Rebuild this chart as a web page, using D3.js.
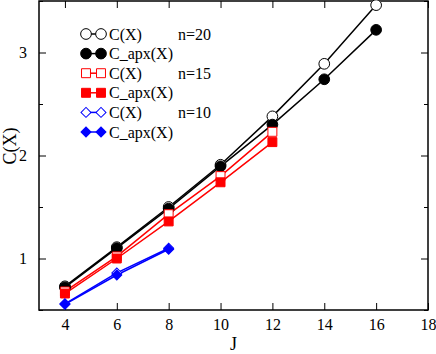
<!DOCTYPE html>
<html lang="en">
<head>
    <meta charset="UTF-8">
    <title>C(X) vs J</title>
    <script src="https://d3js.org/d3.v7.min.js"></script>
    <style>
        body { margin: 0; background: #fff; }
        .frame { fill: none; stroke: #000; stroke-width: 1.5px; }
        .tick line { stroke: #000; stroke-width: 1px; }
    </style>
</head>
<body>
    <script>
        // data
        var J20 = [4, 6, 8, 10, 12, 14, 16];
        var C20 = [0.73, 1.11, 1.50, 1.91, 2.38, 2.89, 3.46];
        var A20 = [0.72, 1.10, 1.485, 1.895, 2.30, 2.74, 3.22];

        var J15 = [4, 6, 8, 10, 12];
        var C15 = [0.68, 1.02, 1.43, 1.80, 2.23];
        var A15 = [0.66, 1.00, 1.36, 1.74, 2.13];

        var J10 = [4, 6, 8];
        var C10 = [0.56, 0.86, 1.10];
        var A10 = [0.555, 0.84, 1.09];

        var xTicks = [4, 6, 8, 10, 12, 14, 16, 18];
        var yTicks = [1, 2, 3];
        var yMinor = [0.5, 1.5, 2.5, 3.5];

        var series = [
            {J: J20, v: C20, color: "#000", shape: "circle", open: true, label: "C(X)", n: "n=20"},
            {J: J20, v: A20, color: "#000", shape: "circle", open: false, label: "C_apx(X)"},
            {J: J15, v: C15, color: "#ff0000", shape: "square", open: true, label: "C(X)", n: "n=15"},
            {J: J15, v: A15, color: "#ff0000", shape: "square", open: false, label: "C_apx(X)"},
            {J: J10, v: C10, color: "#0000ff", shape: "diamond", open: true, label: "C(X)", n: "n=10"},
            {J: J10, v: A10, color: "#0000ff", shape: "diamond", open: false, label: "C_apx(X)"}
        ];

        var serif = "'Liberation Serif', 'DejaVu Serif', 'Times New Roman', serif";
        var width = 436, height = 354;
        var margin = {top: 1, right: 8, bottom: 44, left: 39};
        var iw = width - margin.left - margin.right,
            ih = height - margin.top - margin.bottom;

        var x = d3.scaleLinear().domain([3, 18]).range([0, iw]);
        var y = d3.scaleLinear().domain([0.5, 3.5]).range([ih, 0]);

        var svg = d3.select("body").append("svg")
            .attr("width", width)
            .attr("height", height)
            .style("font-family", serif);

        var g = svg.append("g")
            .attr("transform", "translate(" + margin.left + "," + margin.top + ")");

        function clean(a) {
            a.select(".domain").remove();
            a.attr("font-family", null).attr("font-size", null);
            a.selectAll("text").style("font-family", serif).attr("font-size", 16).attr("fill", "#000");
        }

        // ticks, pointing inward on all four sides
        g.append("g").attr("class", "tick")
            .attr("transform", "translate(0," + ih + ")")
            .call(d3.axisBottom(x).tickValues(xTicks).tickSize(-7).tickPadding(9).tickFormat(d3.format("d")))
            .call(clean);

        g.append("g").attr("class", "tick")
            .call(d3.axisTop(x).tickValues(xTicks).tickSize(-7).tickFormat(""))
            .call(clean);

        g.append("g").attr("class", "tick")
            .call(d3.axisLeft(y).tickValues(yTicks).tickSize(-7).tickPadding(12).tickFormat(d3.format("d")))
            .call(clean);

        g.append("g").attr("class", "tick")
            .call(d3.axisLeft(y).tickValues(yMinor).tickSize(-4).tickFormat(""))
            .call(clean);

        g.append("g").attr("class", "tick")
            .attr("transform", "translate(" + iw + ",0)")
            .call(d3.axisRight(y).tickValues(yTicks).tickSize(-7).tickFormat(""))
            .call(clean);

        g.append("g").attr("class", "tick")
            .attr("transform", "translate(" + iw + ",0)")
            .call(d3.axisRight(y).tickValues(yMinor).tickSize(-4).tickFormat(""))
            .call(clean);

        g.append("rect").attr("class", "frame")
            .attr("width", iw).attr("height", ih);

        var symbols = {circle: d3.symbolCircle, square: d3.symbolSquare, diamond: d3.symbolSquare};
        var sizes = {circle: 90, square: 80, diamond: 50};

        function marker(sel, s) {
            sel.attr("d", d3.symbol().type(symbols[s.shape]).size(sizes[s.shape]))
                .attr("fill", s.open ? "#fff" : s.color)
                .attr("stroke", s.color)
                .attr("stroke-width", 1);
        }

        function place(px, py, s) {
            return "translate(" + px + "," + py + ")" + (s.shape === "diamond" ? " rotate(45)" : "");
        }

        var line = d3.line().x(d => x(d[0])).y(d => y(d[1]));

        series.forEach(function(s) {
            var pts = s.J.map((j, i) => [j, s.v[i]]);
            g.append("path")
                .datum(pts)
                .attr("d", line)
                .attr("fill", "none")
                .attr("stroke", s.color)
                .attr("stroke-width", 1.5);
        });

        series.forEach(function(s) {
            var pts = s.J.map((j, i) => [j, s.v[i]]);
            g.selectAll(null)
                .data(pts)
                .enter().append("path")
                .attr("transform", d => place(x(d[0]), y(d[1]), s))
                .call(marker, s);
        });

        // legend
        var leg = svg.append("g").attr("transform", "translate(86,34)");
        series.forEach(function(s, i) {
            var row = leg.append("g").attr("transform", "translate(0," + (i * 19.6) + ")");
            row.append("line")
                .attr("x1", 0).attr("x2", 15)
                .attr("stroke", s.color).attr("stroke-width", 1.5);
            row.append("path").attr("transform", place(0, 0, s)).call(marker, s);
            row.append("path").attr("transform", place(15, 0, s)).call(marker, s);
            row.append("text")
                .attr("x", 23).attr("dy", "0.35em")
                .attr("font-size", 16)
                .text(s.label);
            if (s.n) {
                row.append("text")
                    .attr("x", 92).attr("dy", "0.35em")
                    .attr("font-size", 16)
                    .text(s.n);
            }
        });

        // axis titles
        svg.append("text")
            .attr("x", margin.left + x(10.5)).attr("y", 350)
            .attr("text-anchor", "middle")
            .attr("font-size", 18)
            .text("J");

        svg.append("text")
            .attr("transform", "translate(16,146) rotate(-90)")
            .attr("text-anchor", "middle")
            .attr("font-size", 18)
            .text("C(X)");
    </script>
</body>
</html>
